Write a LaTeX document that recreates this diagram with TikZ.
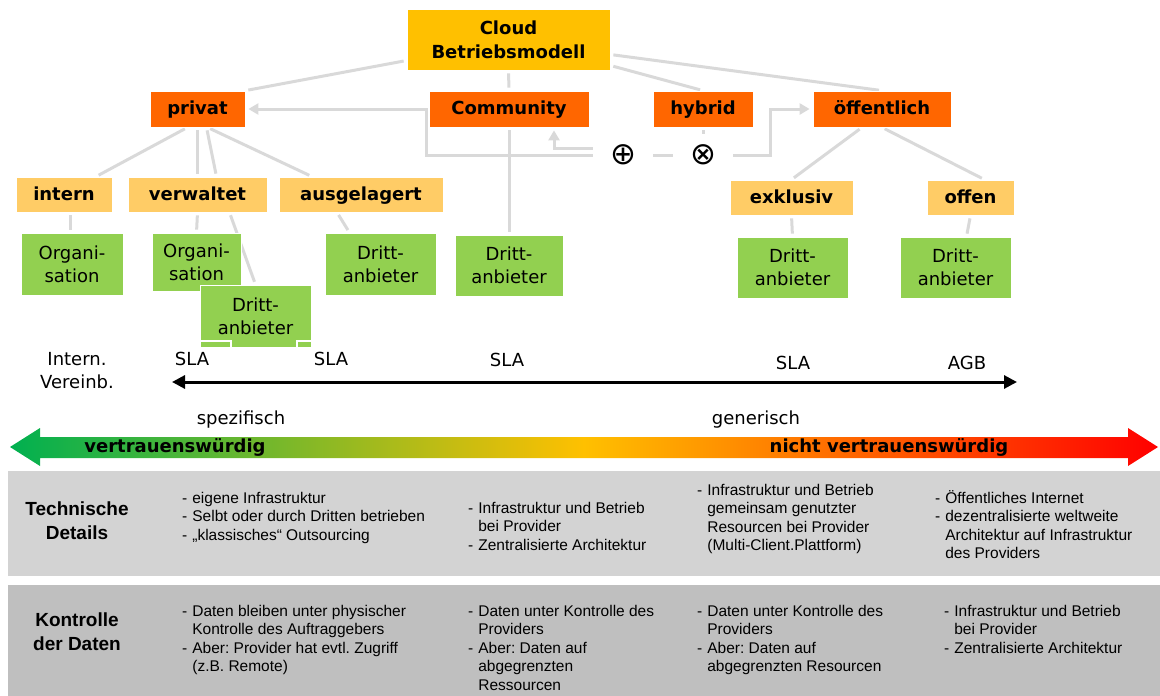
\documentclass[tikz,border=0pt]{standalone}
\usepackage{fontspec}
\setmainfont{DejaVu Sans}
\newfontfamily\tabfont{Liberation Sans}
\newfontfamily\symfont{DejaVu Sans}
\usetikzlibrary{arrows.meta,calc}
\frenchspacing

\definecolor{cloudc}{HTML}{FFC000}
\definecolor{orangec}{HTML}{FF6600}
\definecolor{lightoc}{HTML}{FFCC66}
\definecolor{leafc}{HTML}{92D050}
\definecolor{lineg}{HTML}{D9D9D9}
\definecolor{rowa}{HTML}{D3D3D3}
\definecolor{rowb}{HTML}{BFBFBF}
\definecolor{trustg}{HTML}{00B050}
\definecolor{trustr}{HTML}{FF0000}

\pgfdeclarehorizontalshading{trust}{100bp}{color(0bp)=(trustg); color(25bp)=(trustg); color(50bp)=(cloudc); color(75bp)=(trustr); color(100bp)=(trustr)}

\pgfdeclarelayer{bg}
\pgfsetlayers{bg,main}

\tikzset{
  box/.style={draw=white, line width=0.8pt, inner sep=0pt, align=center,
    font=\bfseries\fontsize{18}{24}\selectfont, text=black},
  topbox/.style={box, fill=cloudc},
  lvlone/.style={box, fill=orangec, minimum height=36pt, text height=13pt, text depth=2pt},
  lvltwo/.style={box, fill=lightoc, minimum height=35pt, text height=13pt, text depth=2pt},
  leaf/.style={draw=white, line width=0.8pt, fill=leafc, inner sep=0pt, align=center,
    font=\fontsize{18}{23}\selectfont, minimum width=111pt, minimum height=61pt},
  conn/.style={draw=lineg, line width=3pt, shorten >=3pt, shorten <=3pt},
  tip/.style={-{Triangle[length=10pt,width=11pt]}},
  opnode/.style={fill=white, inner sep=0pt, minimum width=54pt, minimum height=36pt,
    font=\symfont\fontsize{31}{31}\selectfont},
  lbl/.style={inner sep=0pt, align=center, font=\fontsize{18}{23}\selectfont},
  slabox/.style={lbl, draw=white, line width=2pt, minimum height=36pt},
  trustlbl/.style={inner sep=0pt, font=\bfseries\fontsize{18}{21}\selectfont},
  rowbox/.style={inner sep=0pt, anchor=north west, minimum width=1152pt},
  rowhead/.style={inner sep=0pt, align=center, font=\tabfont\bfseries\fontsize{19}{24}\selectfont},
  cell/.style={inner sep=0pt, anchor=north west, font=\tabfont\fontsize{15.5}{18.5}\selectfont}
}

\newcommand{\itemlist}[1]{\begin{tabular}{@{}l@{\hspace{5pt}}l@{}}#1\end{tabular}}

\begin{document}
\begin{tikzpicture}[x=1pt,y=-1pt]
\useasboundingbox (0,0) rectangle (1160,696);

% --- tree of operating models ---
\node[topbox, minimum width=203pt, minimum height=61pt] (cloud) at (508.5,39.5) {Cloud\\Betriebsmodell};

\node[lvlone, minimum width=95pt]  (privat) at (197.5,109) {privat};
\node[lvlone, minimum width=160pt] (comm)   at (509,109)   {Community};
\node[lvlone, minimum width=100pt] (hybrid) at (703,109)   {hybrid};
\node[lvlone, minimum width=138pt] (oeff)   at (882,109)   {öffentlich};

\node[opnode] (plus)  at (623,155) {⊕};
\node[opnode] (times) at (703,155) {⊗};

\node[lvltwo, minimum width=96pt]  (intern) at (64,194.5)    {intern};
\node[lvltwo, minimum width=139pt] (verw)   at (197.5,194.5) {verwaltet};
\node[lvltwo, minimum width=164pt] (ausg)   at (361,194.5)   {ausgelagert};
\node[lvltwo, minimum width=123pt] (exkl)   at (791.5,197.5) {exklusiv};
\node[lvltwo, minimum width=87pt]  (offen)  at (970.5,197.5) {offen};

\node[leaf, minimum width=102pt, minimum height=62pt] (orgone) at (72,264)    {Organi-\\sation};
\node[leaf, minimum width=89pt,  minimum height=58pt] (orgtwo) at (196.5,262) {Organi-\\sation};
\node[leaf, minimum height=62pt] (drittb) at (255.5,316)  {Dritt-\\anbieter};
\node[leaf, minimum height=62pt] (drittc) at (380.5,264)  {Dritt-\\anbieter};
\node[leaf, minimum width=108pt] (drittd) at (509,265.5)  {Dritt-\\anbieter};
\node[leaf] (dritte) at (792.5,267.5) {Dritt-\\anbieter};
\node[leaf] (drittf) at (955.5,267.5) {Dritt-\\anbieter};

% --- contract scale ---
\node[lbl] (intv) at (77,371) {Intern.\\Vereinb.};
\node[slabox, minimum width=78pt] (slaa) at (192,359) {SLA};
\node[slabox, minimum width=68pt] (slab) at (331,359) {SLA};
\node[lbl] (slac) at (507,360) {SLA};
\node[lbl] (slad) at (793,363) {SLA};
\node[lbl] (agb)  at (967,363) {AGB};

\coordinate (scaleL) at (172,382);
\coordinate (scaleR) at (1017,382);
\draw[line width=3pt, {Triangle[length=13pt,width=13pt]}-{Triangle[length=13pt,width=13pt]}] (scaleL) -- (scaleR);

\node[lbl] (spez) at (241,420) {spezifisch};
\node[lbl] (gen)  at (756,420) {generisch};

% --- trust gradient arrow ---
\path[shading=trust] (10,447) -- (40,428) -- (40,437) -- (1128,437) -- (1128,428)
  -- (1158,447) -- (1128,466) -- (1128,458) -- (40,458) -- (40,466) -- cycle;
\node[trustlbl] (trusted)   at (175,447) {vertrauenswürdig};
\node[trustlbl] (untrusted) at (889,447) {nicht vertrauenswürdig};

% --- detail rows ---
\node[rowbox, fill=rowa, minimum height=105pt] (techrow) at (8,471) {};
\node[rowbox, fill=rowb, minimum height=111pt] (ctrlrow) at (8,585) {};

\node[rowhead] (techhead) at (77,521) {Technische\\Details};
\node[rowhead] (ctrlhead) at (77,632) {Kontrolle\\der Daten};

\node[cell] (ta) at (182,490) {\itemlist{-&eigene Infrastruktur\\ -&Selbt oder durch Dritten betrieben\\ -&„klassisches“ Outsourcing}};
\node[cell] (tb) at (468,500) {\itemlist{-&Infrastruktur und Betrieb\\ &bei Provider\\ -&Zentralisierte Architektur}};
\node[cell] (tc) at (697,482) {\itemlist{-&Infrastruktur und Betrieb\\ &gemeinsam genutzter\\ &Resourcen bei Provider\\ &(Multi-Client.Plattform)}};
\node[cell] (td) at (935,490) {\itemlist{-&Öffentliches Internet\\ -&dezentralisierte weltweite\\ &Architektur auf Infrastruktur\\ &des Providers}};

\node[cell] (ca) at (182,603) {\itemlist{-&Daten bleiben unter physischer\\ &Kontrolle des Auftraggebers\\ -&Aber: Provider hat evtl. Zugriff\\ &(z.B. Remote)}};
\node[cell] (cb) at (468,603) {\itemlist{-&Daten unter Kontrolle des\\ &Providers\\ -&Aber: Daten auf\\ &abgegrenzten\\ &Ressourcen}};
\node[cell] (cc) at (697,603) {\itemlist{-&Daten unter Kontrolle des\\ &Providers\\ -&Aber: Daten auf\\ &abgegrenzten Resourcen}};
\node[cell] (cd) at (944,603) {\itemlist{-&Infrastruktur und Betrieb\\ &bei Provider\\ -&Zentralisierte Architektur}};

% --- connectors behind the boxes ---
\begin{pgfonlayer}{bg}
\draw[conn] ([yshift=-21pt]cloud.west) -- (privat.north east);
\draw[conn] (cloud.south) -- (comm.north);
\draw[conn] ([yshift=-26pt]cloud.east) -- (hybrid.north);
\draw[conn] ([yshift=-15pt]cloud.east) -- (oeff.north);

\draw[conn] ([xshift=-10pt]privat.south) -- ([xshift=32pt]intern.north);
\draw[conn] (privat.south) -- (verw.north);
\draw[conn] ([xshift=9pt]privat.south) -- ([xshift=19pt]verw.north);
\draw[conn] ([xshift=10pt]privat.south) -- ([xshift=-49pt]ausg.north);

\draw[conn] ([xshift=6pt]intern.south) -- ([xshift=-2pt]orgone.north);
\draw[conn] (verw.south) -- (orgtwo.north);
\draw[conn] ([xshift=32pt]verw.south) -- (drittb.north);
\draw[conn] ([xshift=-24pt]ausg.south) -- ([xshift=-31pt]drittc.north);
\draw[conn] (comm.south) -- (drittd.north);

\draw[conn] ([xshift=-20pt]oeff.south) -- (exkl.north);
\draw[conn] (oeff.south) -- ([xshift=14pt]offen.north);
\draw[conn] (exkl.south) -- (dritte.north);
\draw[conn] (offen.south) -- ([xshift=11pt]drittf.north);

\draw[conn] (hybrid.south) -- (times.north);
\draw[conn] (plus.east) -- (times.west);
\draw[conn, tip] ([yshift=7pt]plus.west) -| ([xshift=45pt]comm.south);
\draw[conn, tip] (plus.west) -| ([xshift=-2pt]comm.west) -- (privat.east);
\draw[conn, tip] (times.east) -- ++(40,0) |- (oeff.west);
\end{pgfonlayer}
\end{tikzpicture}
\end{document}
